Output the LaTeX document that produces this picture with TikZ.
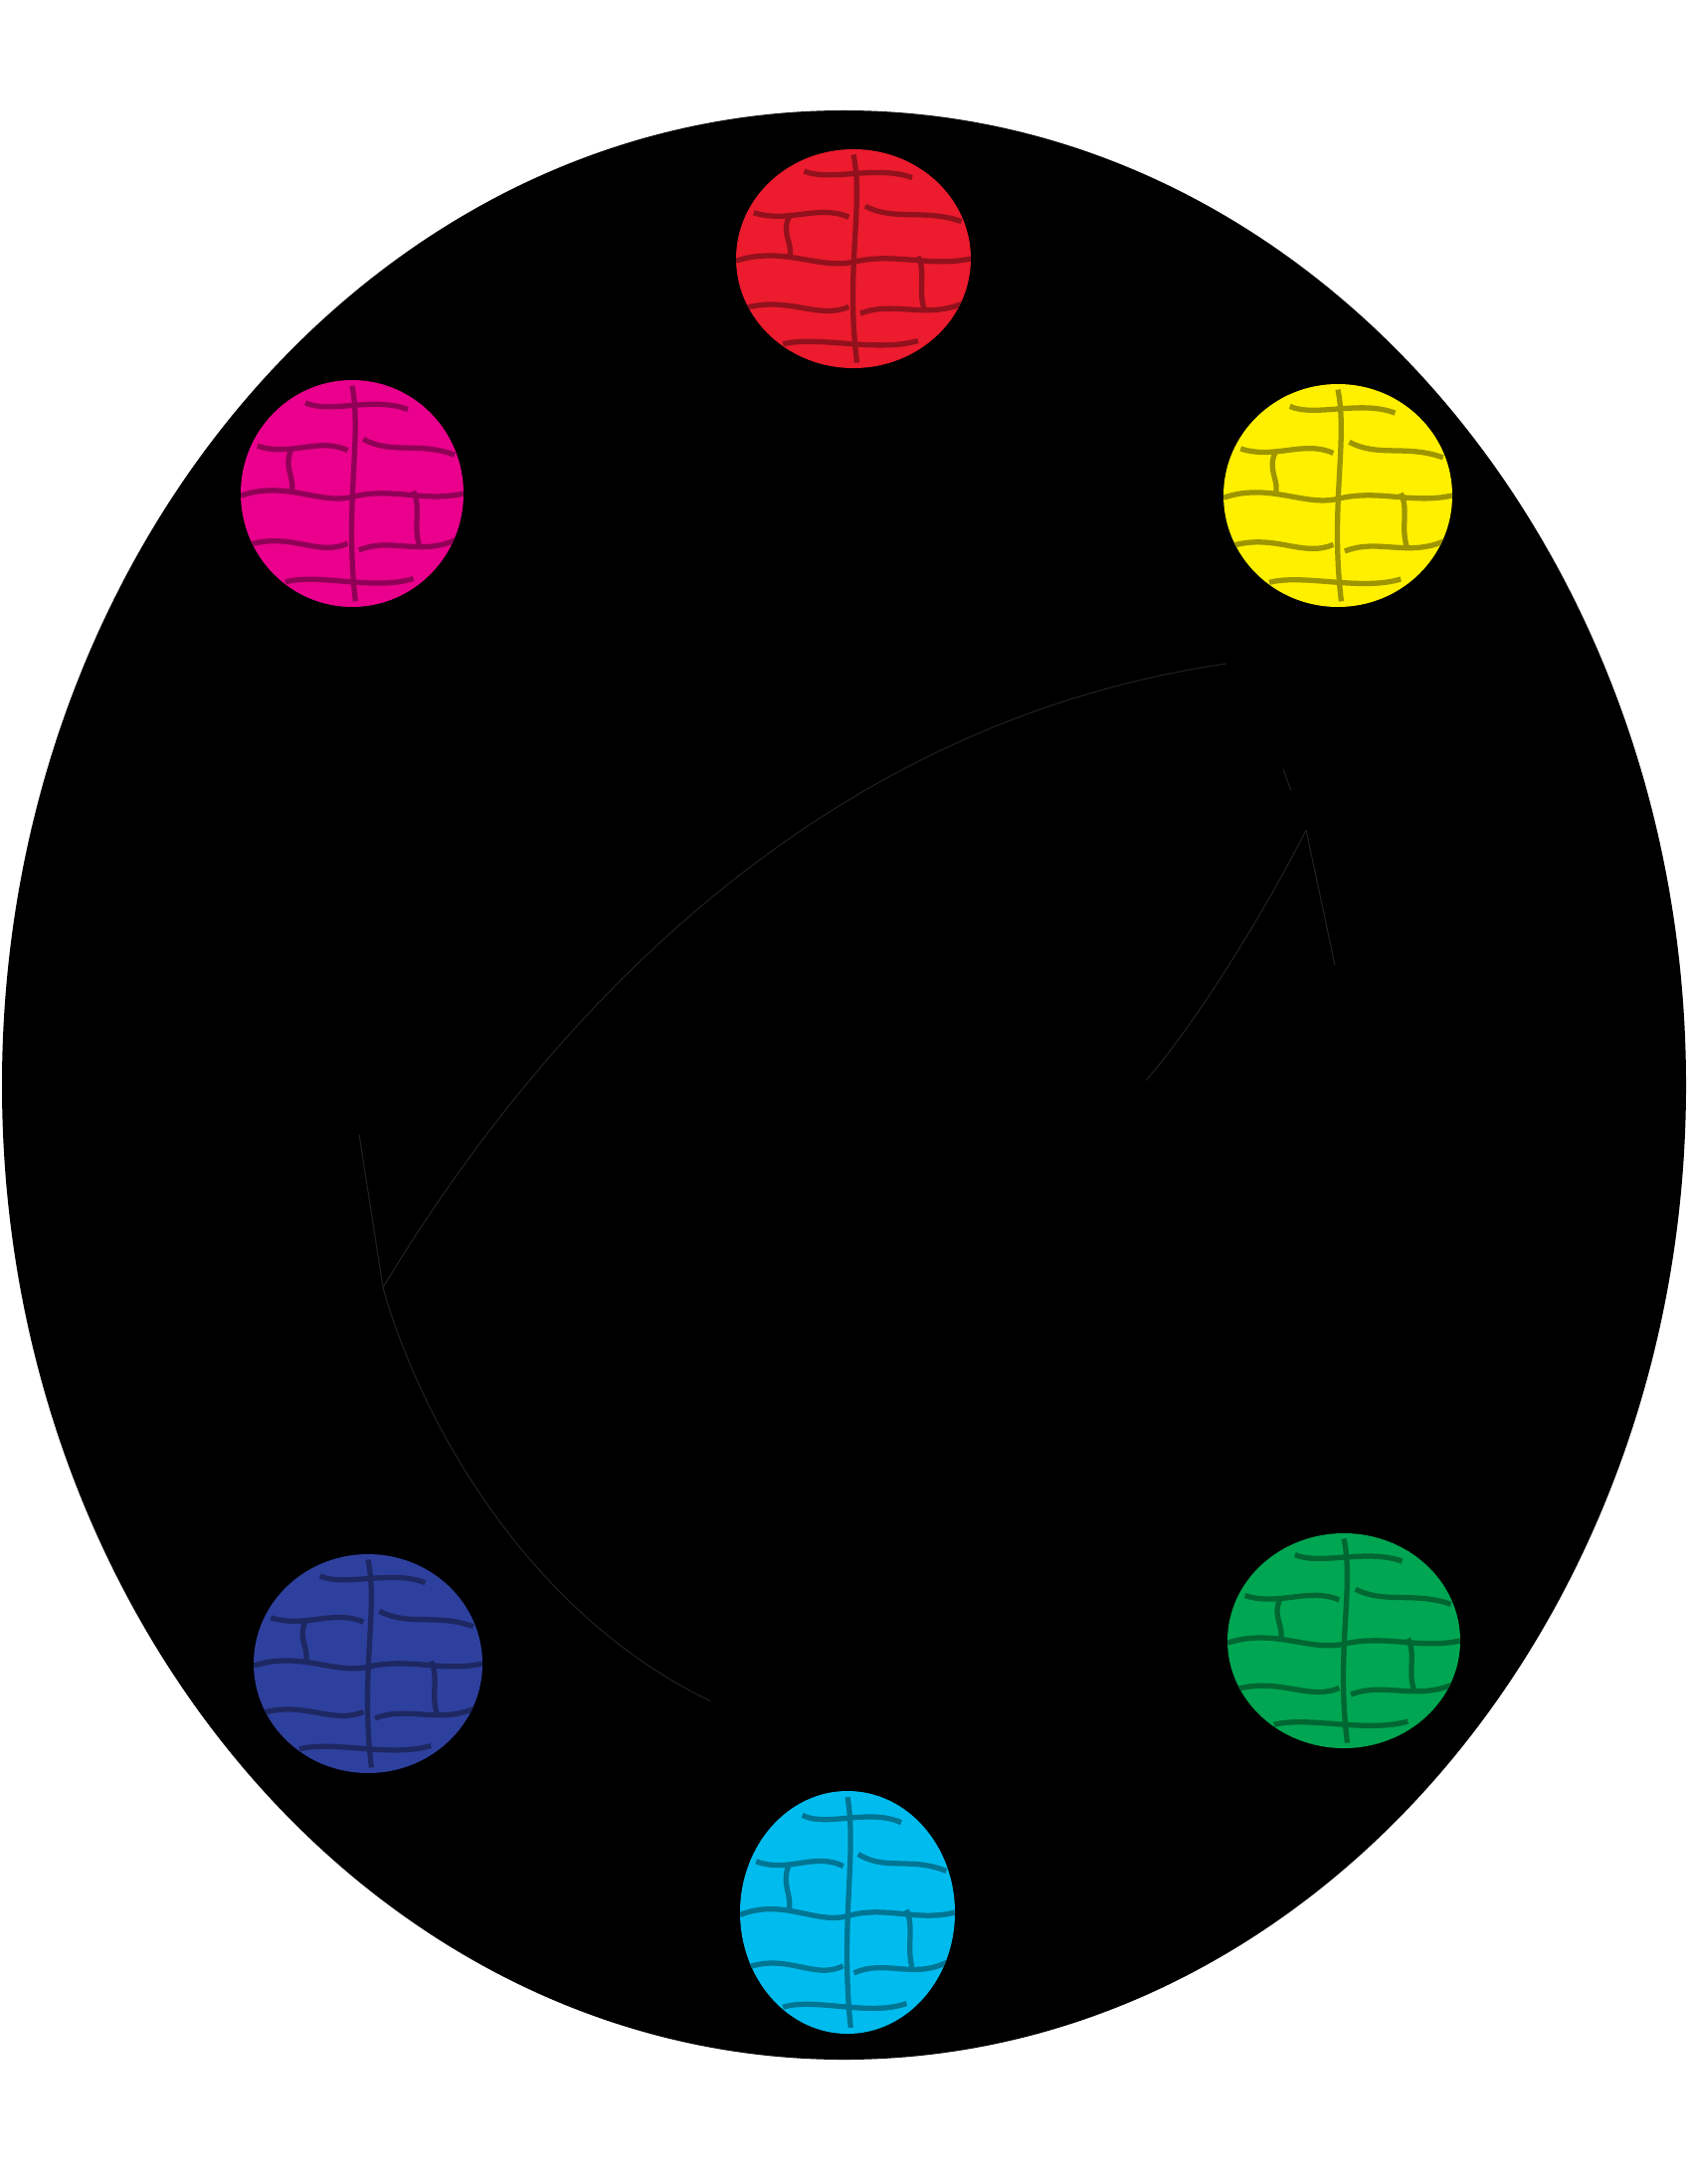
\documentclass[tikz,border=0pt]{standalone}
\usetikzlibrary{shapes.geometric}
\definecolor{ballred}{RGB}{236,27,45}
\definecolor{ballyellow}{RGB}{255,240,0}
\definecolor{ballmagenta}{RGB}{234,0,140}
\definecolor{ballblue}{RGB}{46,64,158}
\definecolor{ballgreen}{RGB}{0,166,81}
\definecolor{ballcyan}{RGB}{0,188,238}
\definecolor{faintgray}{RGB}{32,32,32}

% stone cracks inside a unit disc
\newcommand{\crackset}[1]{%
  \draw[#1] (-1,0.02) .. controls (-0.6,-0.12) and (-0.3,0.1) .. (0,0.03) .. controls (0.35,-0.06) and (0.65,0.08) .. (1,0.0);
  \draw[#1] (-0.85,-0.42) .. controls (-0.55,-0.32) and (-0.3,-0.5) .. (-0.04,-0.38);
  \draw[#1] (0.1,-0.48) .. controls (0.35,-0.34) and (0.6,-0.46) .. (0.92,-0.34);
  \draw[#1] (-0.92,0.45) .. controls (-0.55,0.34) and (-0.3,0.56) .. (-0.04,0.44);
  \draw[#1] (0.06,0.5) .. controls (0.35,0.38) and (0.62,0.56) .. (0.95,0.4);
  \draw[#1] (0,-0.95) .. controls (0.09,-0.5) and (-0.07,0.1) .. (0.03,0.95);
  \draw[#1] (-0.6,0.78) .. controls (-0.3,0.7) and (0.2,0.86) .. (0.55,0.75);
  \draw[#1] (-0.42,-0.8) .. controls (-0.2,-0.7) and (0.2,-0.86) .. (0.5,-0.74);
  \draw[#1] (0.55,-0.02) .. controls (0.62,0.12) and (0.55,0.28) .. (0.6,0.45);
  \draw[#1] (-0.55,-0.38) .. controls (-0.62,-0.22) and (-0.5,-0.12) .. (-0.55,0.0);
}
\newcommand{\stoneball}[5]{%
  \begin{scope}[shift={(#1,#2)},xscale=#3,yscale=#4]
    \fill[#5] (0,0) circle (1);
    \begin{scope}
      \clip (0,0) circle (1);
      \begin{scope}[yshift=1.3pt]
        \crackset{#5!70!white,line width=0.9pt}
      \end{scope}
      \crackset{#5!62!black,line width=1.5pt}
    \end{scope}
  \end{scope}}

\tikzset{faintline/.style={faintgray,line width=0.3pt}}

\begin{document}
\begin{tikzpicture}[x=0.01cm,y=-0.01cm]
  \useasboundingbox (0,0) rectangle (1696,2195);
  % Black disc
  \fill[black] (848.5,1090.5) ellipse [x radius=846.5, y radius=979.5];
  % Six stones
  \stoneball{858}{260}{118}{110}{ballred}
  \stoneball{1345}{498}{115}{112}{ballyellow}
  \stoneball{354}{496}{112}{114}{ballmagenta}
  \stoneball{370}{1672}{115}{110}{ballblue}
  \stoneball{1351}{1649}{117}{108}{ballgreen}
  \stoneball{852}{1922}{108}{122}{ballcyan}
  % Faint arcs
  \coordinate (lowEnd) at (715,1710);
  \coordinate (leftTip) at (385,1294);
  \coordinate (leftBarb) at (361,1140);
  \coordinate (topEnd) at (1233,667);
  \coordinate (rightStart) at (1152,1086);
  \coordinate (rightTip) at (1313,834);
  \coordinate (rightBarb) at (1342,970);
  \coordinate (rightStubA) at (1290,773);
  \coordinate (rightStubB) at (1298,795);
  \draw[faintline] (lowEnd) .. controls (525,1619) and (420,1419) .. (leftTip);
  \draw[faintline] (leftBarb) -- (leftTip);
  \draw[faintline] (leftTip) .. controls (530,1054) and (800,730) .. (topEnd);
  \draw[faintline] (rightStart) .. controls (1205,1025) and (1275,910) .. (rightTip);
  \draw[faintline] (rightTip) -- (rightBarb);
  \draw[faintline] (rightStubA) -- (rightStubB);
\end{tikzpicture}
\end{document}
